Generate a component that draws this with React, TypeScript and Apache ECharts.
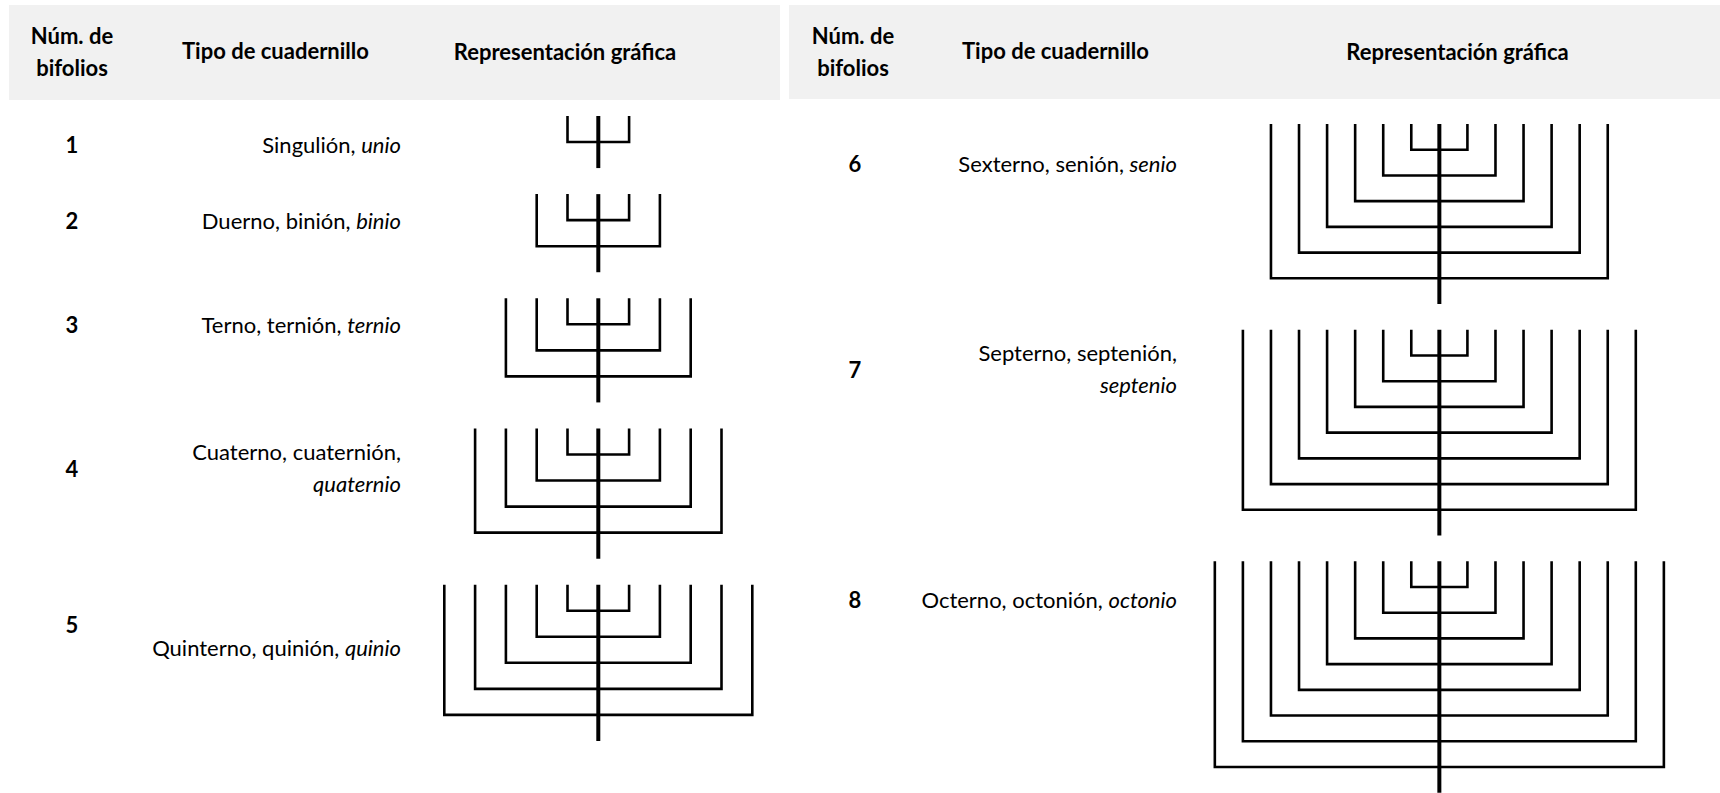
import React, { useEffect, useRef } from "react";
import * as echarts from "echarts";

// ---------- data ----------
const bifolios = [1, 2, 3, 4, 5, 6, 7, 8];
const vernacularNames = [
  "Singulión",
  "Duerno, binión",
  "Terno, ternión",
  "Cuaterno, cuaternión",
  "Quinterno, quinión",
  "Sexterno, senión",
  "Septerno, septenión",
  "Octerno, octonión",
];
const latinNames = ["unio", "binio", "ternio", "quaternio", "quinio", "senio", "septenio", "octonio"];
const panelOfRow = [0, 0, 0, 0, 0, 1, 1, 1];
const headerNum = "Núm. de\nbifolios";
const headerType = "Tipo de cuadernillo";
const headerRep = "Representación gráfica";

// ---------- layout ----------
const wrapLatin = [false, false, false, true, false, false, true, false];
const numberLevel = [1.1, 1.03, 1.01, 1.52, 1.52, 1.52, 1.56, 1.5];
const textLevel = [1.1, 1.03, 1.01, 1.5, 2.4, 1.52, 1.52, 1.5];
const FONT = "Lato";
const FS = 22;
const PANELS = [
  {
    band: { x: 9, y: 5, width: 771, height: 95 },
    numX: 72,
    headNumX: 72,
    typeX: 182,
    repX: 565,
    textRight: 401,
    grid: { left: 290.3, top: 116, width: 616, unitY: 26.3 },
  },
  {
    band: { x: 789, y: 5, width: 931, height: 94 },
    numX: 855,
    headNumX: 853,
    typeX: 962,
    repX: 1457.5,
    textRight: 1177,
    grid: { left: 1158.7, top: 124, width: 601.2, unitY: 25.72 },
  },
];
const X_HALF = 10;
const Y_LEVELS = 26;

// level at which each diagram starts (derived from the counts)
const levelStart: number[] = [];
{
  const acc = [0, 0];
  bifolios.forEach((n, i) => {
    const p = panelOfRow[i];
    levelStart.push(acc[p]);
    acc[p] += n + 2;
  });
}

const renderItem = (params: any, api: any) => {
  const idx = api.value(0);
  const start = api.value(1);
  const n = bifolios[idx];
  const panel = PANELS[panelOfRow[idx]];
  const children: any[] = [];
  for (let i = 1; i <= n; i++) {
    const pts = [
      [-i, start],
      [-i, start + i],
      [i, start + i],
      [i, start],
    ].map((p) => api.coord(p));
    children.push({
      type: "polyline",
      shape: { points: pts },
      style: { stroke: "#000", lineWidth: 2.6, fill: "none", lineJoin: "miter", lineCap: "butt" },
    });
  }
  const top = api.coord([0, start]);
  const bot = api.coord([0, start + n + 1]);
  children.push({
    type: "line",
    shape: { x1: top[0], y1: top[1], x2: bot[0], y2: bot[1] },
    style: { stroke: "#000", lineWidth: 4, lineCap: "butt" },
  });
  const ny = api.coord([0, start + numberLevel[idx]])[1];
  children.push({
    type: "text",
    style: {
      text: String(n),
      x: panel.numX,
      y: ny,
      align: "center",
      verticalAlign: "middle",
      fontFamily: FONT,
      fontSize: FS,
      fontWeight: "bold",
      fill: "#000",
    },
  });
  const ty = api.coord([0, start + textLevel[idx]])[1];
  const baseTok = { fontFamily: FONT, fontSize: FS, fill: "#000" };
  if (wrapLatin[idx]) {
    children.push({
      type: "text",
      style: {
        text: vernacularNames[idx] + ",",
        x: panel.textRight,
        y: ty - 16,
        align: "right",
        verticalAlign: "middle",
        ...baseTok,
      },
    });
    children.push({
      type: "text",
      style: {
        text: latinNames[idx],
        x: panel.textRight,
        y: ty + 16,
        align: "right",
        verticalAlign: "middle",
        fontStyle: "italic",
        ...baseTok,
      },
    });
  } else {
    children.push({
      type: "text",
      style: {
        text: "{r|" + vernacularNames[idx] + ", }{i|" + latinNames[idx] + "}",
        x: panel.textRight,
        y: ty,
        align: "right",
        verticalAlign: "middle",
        ...baseTok,
        rich: {
          r: { ...baseTok, fontStyle: "normal" },
          i: { ...baseTok, fontStyle: "italic" },
        },
      },
    });
  }
  return { type: "group", children };
};

export default function App() {
  const ref = useRef<HTMLDivElement>(null);
  useEffect(() => {
    document.body.style.margin = "0";
    if (!ref.current) return;
    const chart = echarts.init(ref.current, undefined, { renderer: "svg" });

    const graphics: any[] = [];
    PANELS.forEach((p) => {
      graphics.push({ type: "rect", shape: { ...p.band }, style: { fill: "#f1f1f1" }, z: -10 });
      const hs = { fontFamily: FONT, fontSize: FS, fontWeight: "bold", fill: "#000" };
      graphics.push({
        type: "text",
        style: { text: headerNum, x: p.headNumX, y: 51, align: "center", verticalAlign: "middle", lineHeight: 32, ...hs },
      });
      graphics.push({
        type: "text",
        style: { text: headerType, x: p.typeX, y: 50, align: "left", verticalAlign: "middle", ...hs },
      });
      graphics.push({
        type: "text",
        style: { text: headerRep, x: p.repX, y: 51.5, align: "center", verticalAlign: "middle", ...hs },
      });
    });

    const grids = PANELS.map((p) => ({
      left: p.grid.left,
      top: p.grid.top,
      width: p.grid.width,
      height: p.grid.unitY * Y_LEVELS,
      containLabel: false,
    }));
    const xAxes = PANELS.map((_, i) => ({
      type: "value",
      gridIndex: i,
      min: -X_HALF,
      max: X_HALF,
      show: false,
    }));
    const yAxes = PANELS.map((_, i) => ({
      type: "value",
      gridIndex: i,
      min: 0,
      max: Y_LEVELS,
      inverse: true,
      show: false,
    }));
    const series = PANELS.map((_, pi) => ({
      type: "custom",
      xAxisIndex: pi,
      yAxisIndex: pi,
      renderItem,
      clip: false,
      silent: true,
      data: bifolios
        .map((_, i) => i)
        .filter((i) => panelOfRow[i] === pi)
        .map((i) => [i, levelStart[i]]),
    }));

    chart.setOption({
      animation: false,
      backgroundColor: "#ffffff",
      grid: grids,
      xAxis: xAxes,
      yAxis: yAxes,
      graphic: graphics,
      series,
    });
    return () => chart.dispose();
  }, []);
  return <div ref={ref} style={{ width: 1720, height: 793 }} />;
}
